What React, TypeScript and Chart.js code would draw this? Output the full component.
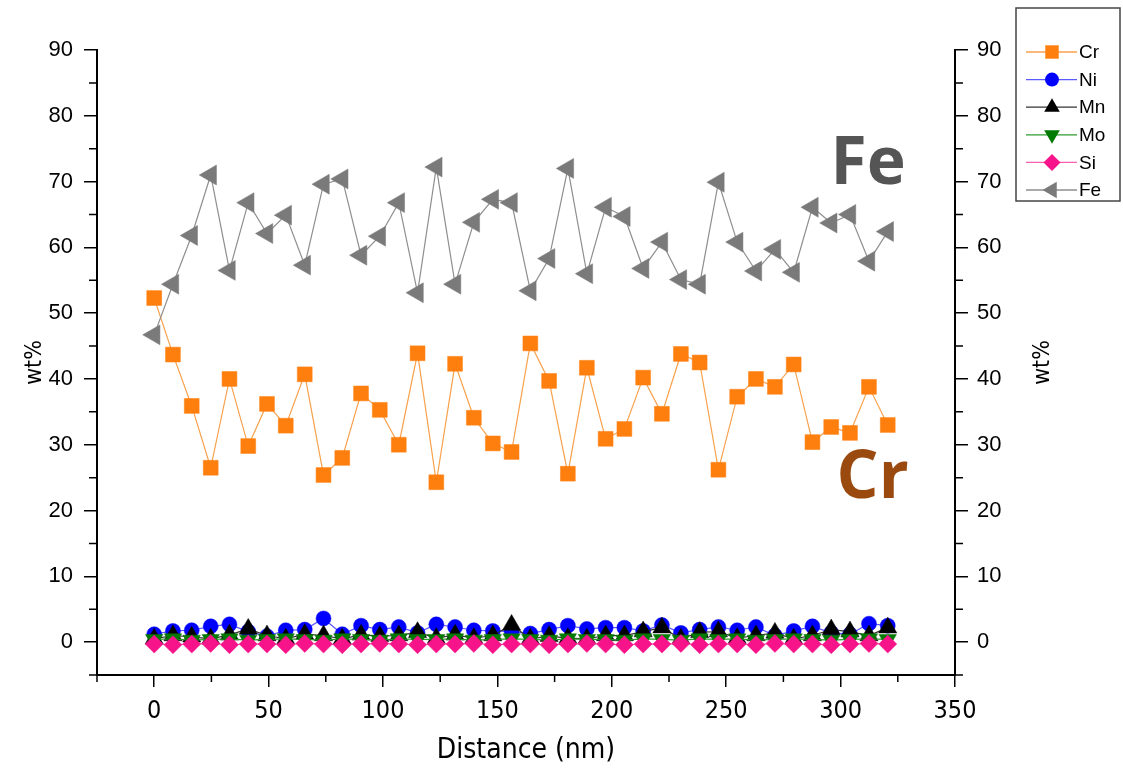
import React, { useEffect, useRef } from 'react';
import { Chart, registerables } from 'chart.js';

Chart.register(...registerables);

// Distance (nm) of each measurement point
const distance = [
  0, 8.2, 16.4, 24.7, 32.9, 41.1, 49.3, 57.5, 65.8, 74.0,
  82.2, 90.4, 98.6, 106.9, 115.1, 123.3, 131.5, 139.7, 148.0, 156.2,
  164.4, 172.6, 180.8, 189.1, 197.3, 205.5, 213.7, 221.9, 230.2, 238.4,
  246.6, 254.8, 263.0, 271.3, 279.5, 287.7, 295.9, 304.1, 312.4, 320.6,
];

const cr = [
  52.3, 43.7, 35.9, 26.5, 40.0, 29.8, 36.2, 32.9, 40.7, 25.4,
  28.0, 37.8, 35.3, 30.0, 43.9, 24.3, 42.3, 34.1, 30.2, 28.9,
  45.4, 39.7, 25.6, 41.7, 30.9, 32.4, 40.2, 34.7, 43.8, 42.5,
  26.2, 37.3, 40.0, 38.8, 42.2, 30.4, 32.7, 31.8, 38.8, 33.0,
];

const ni = [
  1.2, 1.7, 1.8, 2.4, 2.7, 1.6, 0.9, 1.8, 1.9, 3.6,
  1.2, 2.5, 1.9, 2.3, 1.4, 2.7, 2.3, 1.8, 1.7, 1.6,
  1.3, 1.9, 2.5, 2.0, 2.2, 2.2, 1.7, 2.6, 1.4, 1.9,
  2.3, 1.8, 2.3, 1.0, 1.7, 2.4, 1.4, 1.2, 2.8, 2.5,
];

const mn = [
  0.5, 1.0, 0.8, 0.5, 1.1, 2.0, 1.0, 0.5, 1.2, 1.0,
  0.5, 1.1, 0.9, 1.0, 1.5, 0.6, 1.1, 0.6, 1.0, 2.6,
  0.5, 0.9, 0.6, 0.5, 1.0, 1.0, 1.6, 2.2, 0.5, 1.5,
  1.6, 0.6, 1.0, 1.4, 0.5, 1.0, 1.9, 1.6, 1.0, 2.2,
];

const mo = [
  0.4, 0.5, 0.3, 0.4, 0.5, 0.3, 0.4, 0.5, 0.4, 0.3,
  0.5, 0.4, 0.3, 0.5, 0.4, 0.4, 0.5, 0.3, 0.4, 0.5,
  0.4, 0.3, 0.5, 0.4, 0.4, 0.3, 0.5, 0.4, 0.3, 0.5,
  0.4, 0.5, 0.3, 0.4, 0.5, 0.4, 0.3, 0.4, 0.5, 0.4,
];

const si = [
  -0.3, -0.4, -0.3, -0.2, -0.4, -0.3, -0.3, -0.4, -0.2, -0.3,
  -0.4, -0.3, -0.2, -0.3, -0.4, -0.3, -0.3, -0.2, -0.4, -0.3,
  -0.3, -0.4, -0.3, -0.2, -0.3, -0.4, -0.3, -0.3, -0.2, -0.4,
  -0.3, -0.3, -0.4, -0.2, -0.3, -0.3, -0.4, -0.3, -0.2, -0.3,
];

const fe = [
  46.7, 54.4, 61.8, 71.0, 56.5, 66.8, 62.1, 64.9, 57.3, 69.6,
  70.4, 58.8, 61.7, 66.8, 53.1, 72.2, 54.4, 63.8, 67.3, 66.8,
  53.4, 58.3, 72.0, 56.0, 66.1, 64.7, 56.8, 60.8, 55.1, 54.4,
  69.9, 60.8, 56.4, 59.7, 56.2, 66.1, 63.7, 65.0, 57.9, 62.4,
];

const yTicks = [0, 10, 20, 30, 40, 50, 60, 70, 80, 90];
const yMinorTicks = [-5, 5, 15, 25, 35, 45, 55, 65, 75, 85];
const xTicks = [0, 50, 100, 150, 200, 250, 300, 350];
const xMinorTicks = [-25, 25, 75, 125, 175, 225, 275, 325];

const seriesNames = ['Cr', 'Ni', 'Mn', 'Mo', 'Si', 'Fe'];
const seriesValues = [cr, ni, mn, mo, si, fe];

type Style = { marker: string; line: string; shape: string; rot: number; r: number; lr: number };
const styles: Style[] = [
  { marker: '#ff7f0e', line: '#f8a14c', shape: 'rect', rot: 0, r: 10.5, lr: 9.5 },
  { marker: '#0000ff', line: '#5a5aff', shape: 'circle', rot: 0, r: 7.5, lr: 7 },
  { marker: '#000000', line: '#333333', shape: 'triangle', rot: 0, r: 10.5, lr: 9 },
  { marker: '#007a00', line: '#2e9a2e', shape: 'triangle', rot: 180, r: 10, lr: 9 },
  { marker: '#f7148a', line: '#f760b0', shape: 'rectRot', rot: 0, r: 9, lr: 8.5 },
  { marker: '#7a7a7a', line: '#8e8e8e', shape: 'triangle', rot: -90, r: 11.5, lr: 9.5 },
];

const annotations = [
  { text: 'Fe', x: 312, y: 69.7, color: '#555555' },
  { text: 'Cr', x: 314, y: 21.9, color: '#9a4a0e' },
];

const NARROW = '"Liberation Sans Narrow", "DejaVu Sans Condensed", "Liberation Sans", sans-serif';
const SANS = '"Liberation Sans", Arial, sans-serif';

function drawMarker(ctx: CanvasRenderingContext2D, shape: string, rot: number, x: number, y: number, r: number) {
  ctx.beginPath();
  if (shape === 'circle') {
    ctx.arc(x, y, r, 0, Math.PI * 2);
  } else if (shape === 'rect') {
    const s = r * Math.SQRT1_2;
    ctx.rect(x - s, y - s, 2 * s, 2 * s);
  } else if (shape === 'rectRot') {
    ctx.moveTo(x, y - r);
    ctx.lineTo(x + r, y);
    ctx.lineTo(x, y + r);
    ctx.lineTo(x - r, y);
    ctx.closePath();
  } else {
    let a = (rot * Math.PI) / 180;
    ctx.moveTo(x + Math.sin(a) * r, y - Math.cos(a) * r);
    a += (2 * Math.PI) / 3;
    ctx.lineTo(x + Math.sin(a) * r, y - Math.cos(a) * r);
    a += (2 * Math.PI) / 3;
    ctx.lineTo(x + Math.sin(a) * r, y - Math.cos(a) * r);
    ctx.closePath();
  }
  ctx.fill();
}

const decorPlugin = {
  id: 'decor',
  afterDraw(chart: any) {
    const ctx: CanvasRenderingContext2D = chart.ctx;
    const xs = chart.scales.x;
    const ys = chart.scales.y;
    const area = chart.chartArea;
    ctx.save();
    // minor ticks
    ctx.strokeStyle = '#000';
    ctx.lineWidth = 1.5;
    yMinorTicks.forEach((v) => {
      const py = ys.getPixelForValue(v);
      ctx.beginPath();
      ctx.moveTo(area.left - 8, py);
      ctx.lineTo(area.left, py);
      ctx.moveTo(area.right, py);
      ctx.lineTo(area.right + 8, py);
      ctx.stroke();
    });
    xMinorTicks.forEach((v) => {
      const px = xs.getPixelForValue(v);
      ctx.beginPath();
      ctx.moveTo(px, area.bottom);
      ctx.lineTo(px, area.bottom + 7);
      ctx.stroke();
    });

    // axis titles
    ctx.fillStyle = '#000';
    ctx.textAlign = 'center';
    ctx.textBaseline = 'middle';
    ctx.font = `28px ${NARROW}`;
    ctx.fillText('Distance (nm)', (area.left + area.right) / 2, 751);
    ctx.font = `23px ${NARROW}`;
    const midY = (area.top + area.bottom) / 2;
    [35, 1043].forEach((px) => {
      ctx.save();
      ctx.translate(px, midY);
      ctx.rotate(-Math.PI / 2);
      ctx.fillText('wt%', 0, 0);
      ctx.restore();
    });

    // big element annotations
    ctx.font = `bold 66px "Open Sans", ${SANS}`;
    ctx.textBaseline = 'alphabetic';
    annotations.forEach((a) => {
      ctx.fillStyle = a.color;
      ctx.fillText(a.text, xs.getPixelForValue(a.x), ys.getPixelForValue(a.y));
    });

    // legend
    const bx = 1016, by = 8, bw = 104, bh = 193;
    ctx.strokeStyle = '#444';
    ctx.lineWidth = 1.5;
    ctx.strokeRect(bx, by, bw, bh);
    ctx.font = `19px ${SANS}`;
    ctx.textAlign = 'left';
    ctx.textBaseline = 'middle';
    seriesNames.forEach((name, i) => {
      const st = styles[i];
      const ly = 52 + i * 27.6;
      ctx.strokeStyle = st.line;
      ctx.lineWidth = 1.3;
      ctx.beginPath();
      ctx.moveTo(1026, ly);
      ctx.lineTo(1077, ly);
      ctx.stroke();
      ctx.fillStyle = st.marker;
      drawMarker(ctx, st.shape, st.rot, 1052, ly, st.lr);
      ctx.fillStyle = '#000';
      ctx.fillText(name, 1079, ly + 1);
    });
    ctx.restore();
  },
};

export default function App() {
  const ref = useRef<HTMLCanvasElement>(null);
  useEffect(() => {
    if (!ref.current) return;
    const datasets = seriesNames.map((name, i) => {
      const st = styles[i];
      return {
        label: name,
        data: distance.map((x, j) => ({ x, y: seriesValues[i][j] })),
        borderColor: st.line,
        borderWidth: 1.2,
        backgroundColor: st.marker,
        pointBackgroundColor: st.marker,
        pointBorderColor: st.marker,
        pointBorderWidth: 0.5,
        pointStyle: st.shape,
        pointRotation: st.rot,
        pointRadius: st.r,
        pointHoverRadius: st.r,
        fill: false,
        tension: 0,
        order: 6 - i,
        yAxisID: 'y',
      };
    });
    const yCommon = (position: 'left' | 'right', width: number, padding: number) => ({
      type: 'linear' as const,
      position,
      min: -5,
      max: 90,
      afterBuildTicks: (s: any) => {
        s.ticks = yTicks.map((v) => ({ value: v }));
      },
      afterFit: (s: any) => {
        s.width = width;
      },
      grid: { drawOnChartArea: false, drawTicks: true, tickLength: 13, color: '#000', lineWidth: 1.5 },
      border: { display: true, color: '#000', width: 2 },
      ticks: { color: '#000', font: { family: SANS, size: 22 }, padding },
    });
    const chart = new Chart(ref.current, {
      type: 'line',
      data: { datasets: datasets as any },
      options: {
        animation: false,
        responsive: false,
        devicePixelRatio: 1,
        layout: { padding: { top: 50, left: 0, right: 0, bottom: 0 } },
        plugins: { legend: { display: false }, tooltip: { enabled: false } },
        scales: {
          x: {
            type: 'linear',
            min: -25,
            max: 350,
            afterBuildTicks: (s: any) => {
              s.ticks = xTicks.map((v) => ({ value: v }));
            },
            afterFit: (s: any) => {
              s.height = 99;
            },
            grid: { drawOnChartArea: false, drawTicks: true, tickLength: 12, color: '#000', lineWidth: 1.5 },
            border: { display: true, color: '#000', width: 2 },
            ticks: { color: '#000', font: { family: NARROW, size: 25 }, padding: 9, maxRotation: 0 },
          },
          y: yCommon('left', 97, 11),
          y2: yCommon('right', 168, 9),
        } as any,
      },
      plugins: [decorPlugin],
    });
    return () => chart.destroy();
  }, []);
  return (
    <canvas
      ref={ref}
      width={1123}
      height={774}
      style={{ position: 'fixed', left: 0, top: 0, width: 1123, height: 774, background: '#fff' }}
    />
  );
}
